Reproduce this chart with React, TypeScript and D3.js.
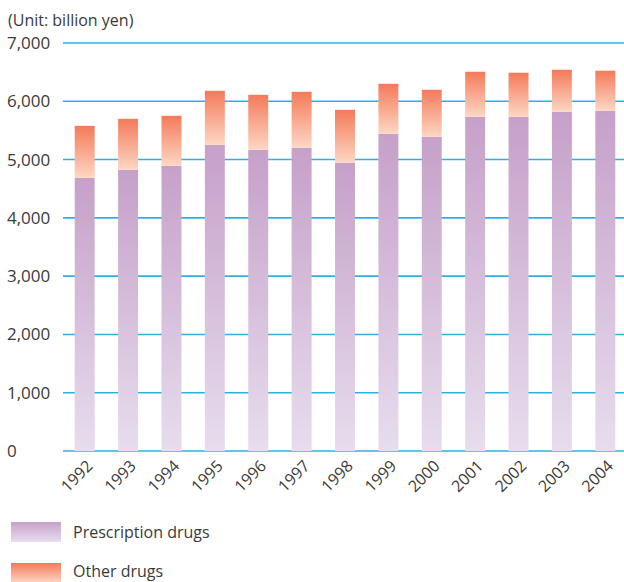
import { useMemo } from "react";
import * as d3 from "d3";

const WIDTH = 624;
const HEIGHT = 582;
const MARGIN = { top: 43, right: 0, bottom: 131, left: 63 };

const YEARS = ["1992", "1993", "1994", "1995", "1996", "1997", "1998", "1999", "2000", "2001", "2002", "2003", "2004"];
const PRESCRIPTION = [4686, 4823, 4892, 5253, 5167, 5201, 4944, 5442, 5390, 5734, 5734, 5820, 5837];
const OTHER = [893, 876, 859, 927, 944, 962, 910, 858, 807, 773, 756, 721, 687];
const Y_TICKS = [0, 1000, 2000, 3000, 4000, 5000, 6000, 7000];

const SERIES = [
    { key: "prescription", name: "Prescription drugs", top: "#c6a0c9", bottom: "#e7ddee" },
    { key: "other", name: "Other drugs", top: "#f47a5a", bottom: "#fdd7c4" },
];

const FONT = "'Open Sans', 'Noto Sans', sans-serif";
const TEXT_COLOR = "#3a3a3a";
const GRID_COLOR = "#2cb0e0";

export default function App() {
    const boundsWidth = WIDTH - MARGIN.left - MARGIN.right;
    const boundsHeight = HEIGHT - MARGIN.top - MARGIN.bottom;

    const xScale = useMemo(
        () => d3.scaleBand<string>().domain(YEARS).range([0, 564]).paddingInner(0.54).paddingOuter(0.27),
        [boundsWidth]
    );
    const yScale = useMemo(
        () => d3.scaleLinear().domain([0, 7000]).range([boundsHeight, 0]),
        [boundsHeight]
    );

    const rows = YEARS.map((year, i) => ({ year, prescription: PRESCRIPTION[i], other: OTHER[i] }));
    const stacked = d3.stack<any>().keys(SERIES.map((s) => s.key))(rows);

    return (
        <svg width={WIDTH} height={HEIGHT} style={{ position: "absolute", left: 0, top: 0 }} fontFamily={FONT}>
            <defs>
                {SERIES.map((s) => (
                    <linearGradient key={s.key} id={`grad-${s.key}`} x1="0" y1="0" x2="0" y2="1">
                        <stop offset="0%" stopColor={s.top} />
                        <stop offset="100%" stopColor={s.bottom} />
                    </linearGradient>
                ))}
            </defs>

            <text x={8} y={26} fontSize={16} fill={TEXT_COLOR}>(Unit: billion yen)</text>

            <g transform={`translate(${MARGIN.left},${MARGIN.top})`}>
                {Y_TICKS.map((t) => (
                    <line key={t} x1={0} x2={boundsWidth} y1={yScale(t)} y2={yScale(t)} stroke={GRID_COLOR} strokeWidth={1.6} />
                ))}
                {stacked.map((layer, li) =>
                    layer.map((d, j) => (
                        <rect
                            key={`${li}_${j}`}
                            x={xScale(YEARS[j])}
                            width={xScale.bandwidth()}
                            y={yScale(d[1])}
                            height={yScale(d[0]) - yScale(d[1])}
                            fill={`url(#grad-${SERIES[li].key})`}
                        />
                    ))
                )}
                {YEARS.map((year) => {
                    const cx = (xScale(year) ?? 0) + xScale.bandwidth() / 2;
                    return (
                        <text
                            key={year}
                            transform={`translate(${cx + 9},${boundsHeight + 16}) rotate(-45)`}
                            textAnchor="end"
                            fontSize={16}
                            fill={TEXT_COLOR}
                        >
                            {year}
                        </text>
                    );
                })}
            </g>

            {Y_TICKS.map((t) => (
                <text key={t} x={7} y={MARGIN.top + yScale(t) + 6} fontSize={17} fill={TEXT_COLOR}>
                    {d3.format(",")(t)}
                </text>
            ))}

            {SERIES.map((s, i) => (
                <g key={s.key} transform={`translate(0,${522 + i * 41})`}>
                    <rect x={11} y={0} width={50} height={20} fill={`url(#grad-${s.key})`} />
                    <text x={73} y={i === 0 ? 16 : 14} fontSize={16} fill={TEXT_COLOR}>{s.name}</text>
                </g>
            ))}
        </svg>
    );
}
